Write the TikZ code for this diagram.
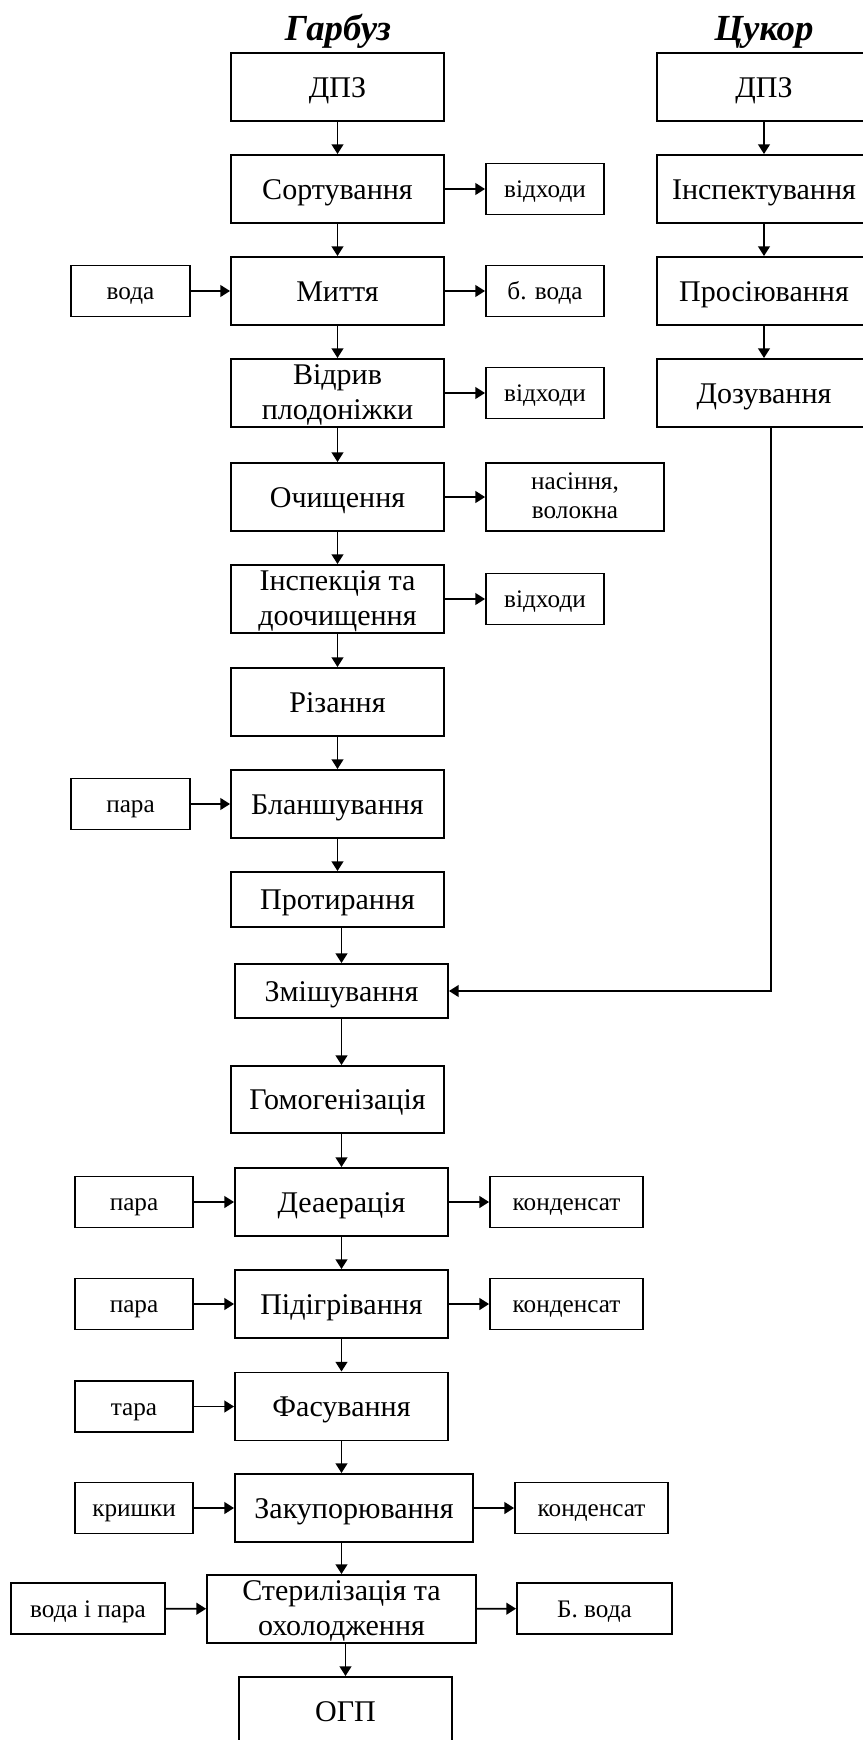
\documentclass[tikz,border=0pt]{standalone}
\usepackage{fontspec}
\setmainfont{Liberation Serif}
\usetikzlibrary{arrows.meta}
\tikzset{
  box/.style={draw, line width=0.9pt, inner sep=0pt, align=center},
  proc/.style={box, minimum width=101.4pt, minimum height=32.4pt,
    text height=12.7pt, text depth=3.1pt, font=\fontsize{14.3}{17}\selectfont},
  two/.style={text height=28.7pt, text depth=3.1pt},
  side/.style={box, minimum width=56.2pt, minimum height=24.3pt,
    text height=10.7pt, text depth=2.6pt, font=\fontsize{12}{14.2}\selectfont},
  head/.style={text height=15.6pt, text depth=3.8pt,
    font=\fontsize{17.5}{20}\selectfont\bfseries\itshape},
  arr/.style={-{Triangle[length=4.6pt,width=5.6pt]}, line width=0.8pt}
}
\begin{document}
\begin{tikzpicture}[x=0.476pt, y=-0.476pt]
      \useasboundingbox (0,0) rectangle (862,1740);
      \node[head] (garbuz) at (338,28) {Гарбуз};
      \node[head] (cukor) at (764,28) {Цукор};
      \node[proc] (dpz) at (337.5,87) {ДПЗ};
      \node[proc] (sort) at (337.5,189) {Сортування};
      \node[proc] (myttia) at (337.5,291) {Миття};
      \node[proc, two] (vidryv) at (337.5,393) {Відрив\\плодоніжки};
      \node[proc] (ochysh) at (337.5,497) {Очищення};
      \node[proc, two] (insp) at (337.5,599) {Інспекція та\\доочищення};
      \node[proc] (rizan) at (337.5,702) {Різання};
      \node[proc] (blansh) at (337.5,804) {Бланшування};
      \node[proc, minimum height=26.2pt] (protyr) at (337.5,899.5) {Протирання};
      \node[proc, minimum height=25.7pt] (zmish) at (341.5,991) {Змішування};
      \node[proc, minimum height=31.9pt] (homog) at (337.5,1099.5) {Гомогенізація};
      \node[proc] (deaer) at (341.5,1202) {Деаерація};
      \node[proc] (pidigr) at (341.5,1304) {Підігрівання};
      \node[proc] (fasuv) at (341.5,1406.5) {Фасування};
      \node[proc, minimum width=113.3pt] (zakup) at (354,1508) {Закупорювання};
      \node[proc, two, minimum width=128pt] (steril) at (341.5,1609) {Стерилізація та\\охолодження};
      \node[proc] (ogp) at (345.5,1711) {ОГП};
      \node[side] (vidh1) at (545,189) {відходи};
      \node[side, minimum width=56.6pt] (voda) at (130.5,291) {вода};
      \node[side] (bvoda) at (545,291) {б. вода};
      \node[side] (vidh2) at (545,393) {відходи};
      \node[side, minimum width=84.7pt, minimum height=32.4pt,
        text height=23.4pt] (nasin) at (575,497) {насіння,\\волокна};
      \node[side] (vidh3) at (545,599) {відходи};
      \node[side, minimum width=56.6pt] (para1) at (130.5,804) {пара};
      \node[side] (para2) at (134,1202) {пара};
      \node[side, minimum width=72.8pt] (kond1) at (566.5,1202) {конденсат};
      \node[side] (para3) at (134,1304) {пара};
      \node[side, minimum width=72.8pt] (kond2) at (566.5,1304) {конденсат};
      \node[side] (tara) at (134,1406.5) {тара};
      \node[side] (kryshky) at (134,1508) {кришки};
      \node[side, minimum width=72.8pt] (kond3) at (591.5,1508) {конденсат};
      \node[side, minimum width=73.3pt] (vodapara) at (88,1608.5) {вода і пара};
      \node[side, minimum width=73.8pt] (bvoda2) at (594.5,1608.5) {Б. вода};
      \node[proc, minimum width=101.9pt] (sdpz) at (764,87) {ДПЗ};
      \node[proc, minimum width=101.9pt] (sinsp) at (764,189) {Інспектування};
      \node[proc, minimum width=101.9pt] (sprosi) at (764,291) {Просіювання};
      \node[proc, minimum width=101.9pt] (sdoz) at (764,393) {Дозування};
      \coordinate (bend) at (770.7,991);
      \begin{scope}[arr]
        \draw (dpz) -- (sort);
        \draw (sort) -- (myttia);
        \draw (myttia) -- (vidryv);
        \draw (vidryv) -- (ochysh);
        \draw (ochysh) -- (insp);
        \draw (insp) -- (rizan);
        \draw (rizan) -- (blansh);
        \draw (blansh) -- (protyr);
        \draw (protyr.south -| zmish.north) -- (zmish.north);
        \draw (zmish.south) -- (zmish.south |- homog.north);
        \draw (homog.south -| deaer.north) -- (deaer.north);
        \draw (deaer) -- (pidigr);
        \draw (pidigr) -- (fasuv);
        \draw (fasuv) -- (fasuv.south |- zakup.north);
        \draw (zakup.south -| steril.north) -- (steril.north);
        \draw (steril.south -| ogp.north) -- (ogp.north);
        \draw (sort) -- (vidh1);
        \draw (voda) -- (myttia);
        \draw (myttia) -- (bvoda);
        \draw (vidryv) -- (vidh2);
        \draw (ochysh) -- (nasin);
        \draw (insp) -- (vidh3);
        \draw (para1) -- (blansh);
        \draw (para2) -- (deaer);
        \draw (deaer) -- (kond1);
        \draw (para3) -- (pidigr);
        \draw (pidigr) -- (kond2);
        \draw (tara) -- (fasuv);
        \draw (kryshky) -- (zakup);
        \draw (zakup) -- (kond3);
        \draw (vodapara) -- (steril);
        \draw (steril) -- (bvoda2);
        \draw (sdpz) -- (sinsp);
        \draw (sinsp) -- (sprosi);
        \draw (sprosi) -- (sdoz);
        \draw (sdoz.south -| bend) -- (bend) -- (zmish.east);
      \end{scope}
    \end{tikzpicture}
\end{document}
